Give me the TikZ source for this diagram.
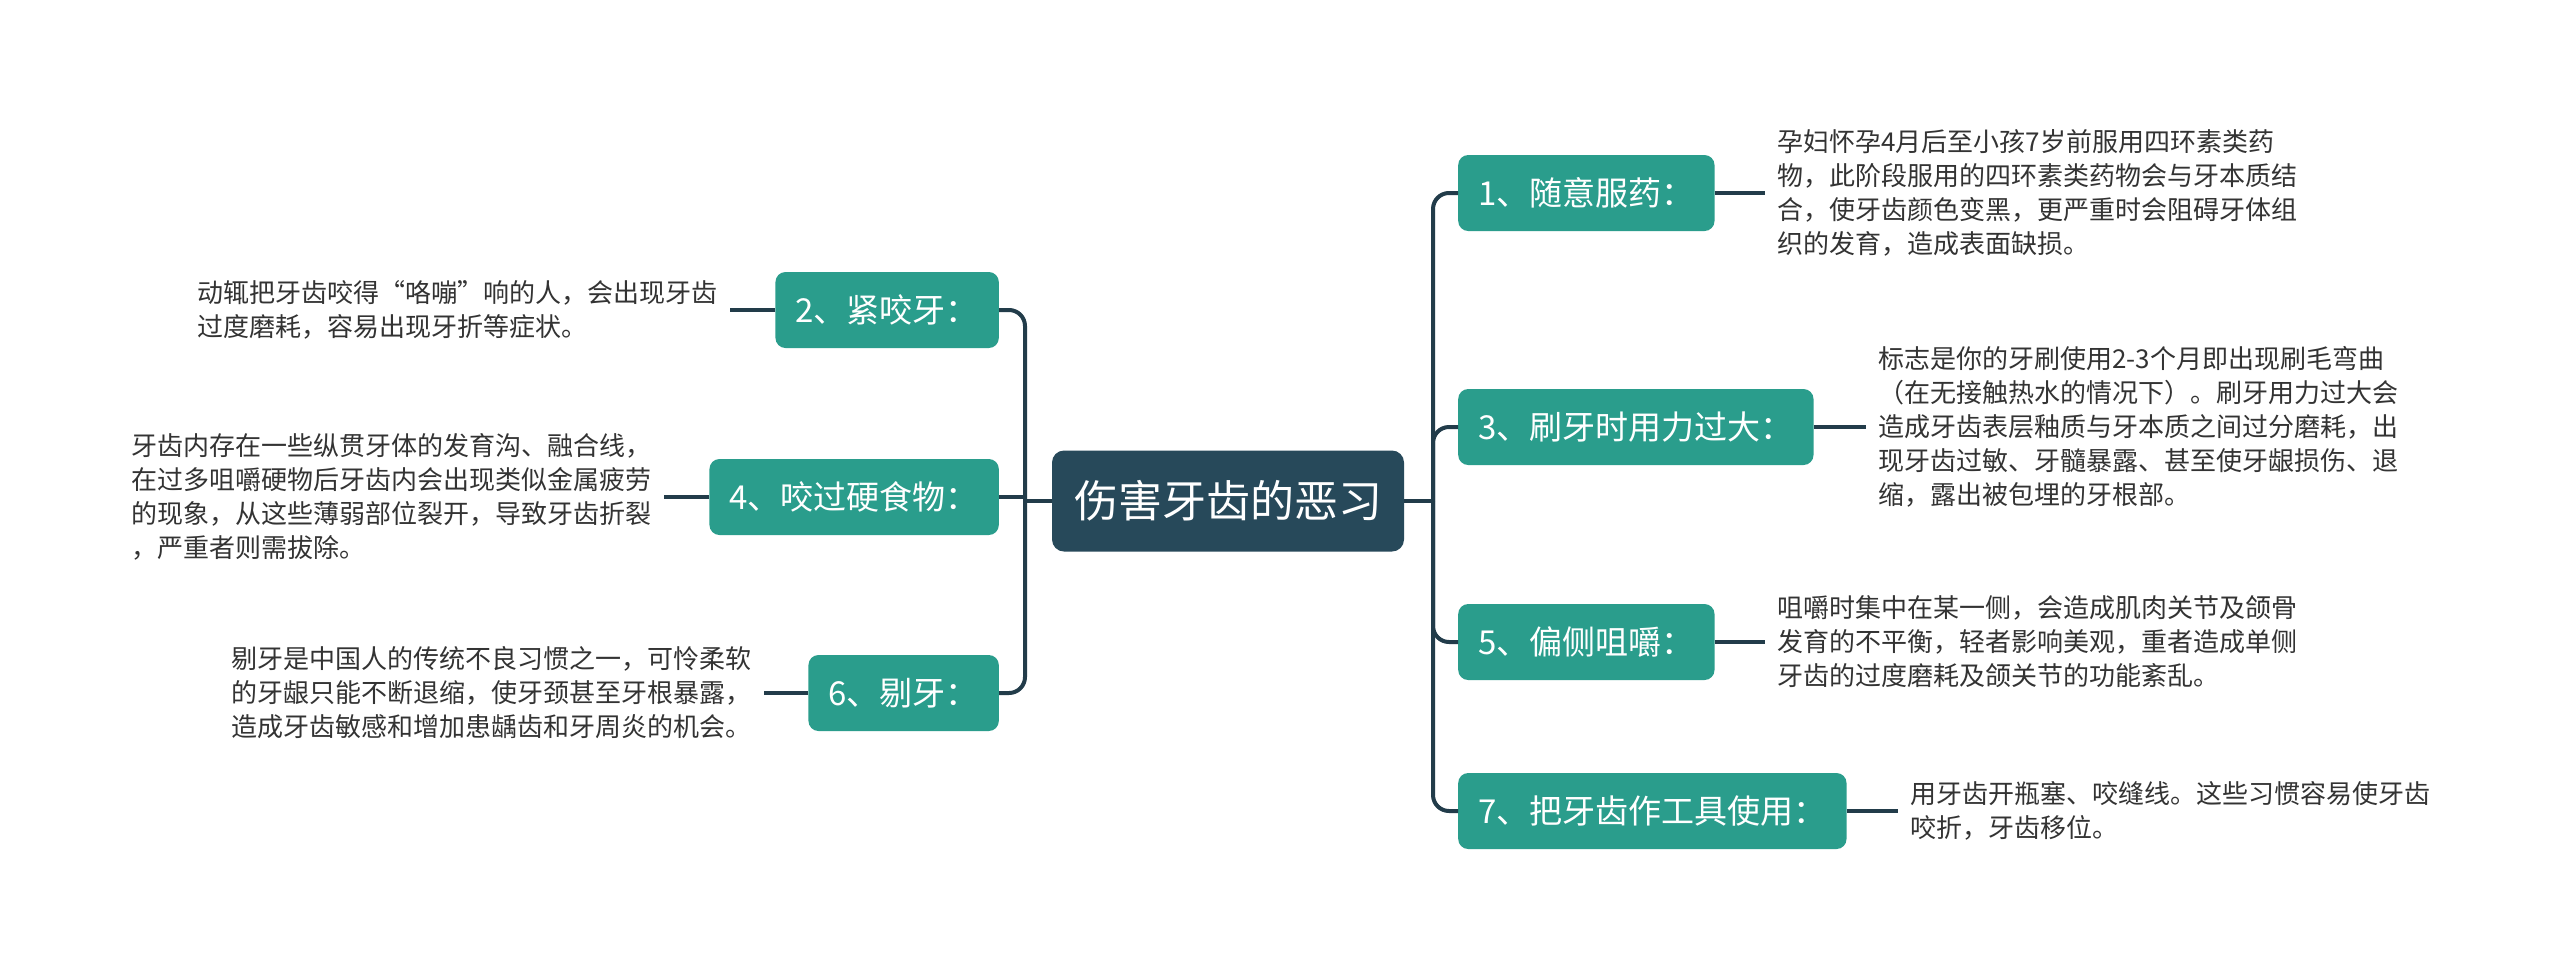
\documentclass[tikz,border=0pt]{standalone}
\usepackage{fontspec}
\setmainfont{Noto Sans CJK SC}
\definecolor{mmteal}{HTML}{2A9D8C}
\definecolor{mmdark}{HTML}{27495A}
\definecolor{mmline}{HTML}{223C4A}
\definecolor{mmtext}{HTML}{333333}
\tikzset{
  central/.style={fill=mmdark, rounded corners=12pt, text=white, font=\fontsize{44}{52}\selectfont, minimum height=101pt, inner xsep=22pt},
  branch/.style={fill=mmteal, rounded corners=10pt, text=white, font=\fontsize{33}{40}\selectfont, minimum height=76pt, inner xsep=20pt},
  detail/.style={text=mmtext, font=\fontsize{26}{34}\selectfont, align=left, inner xsep=12pt, inner ysep=4pt},
  link/.style={draw=mmline, line width=4pt},
  trunk/.style={link, rounded corners=16pt},
}
\begin{document}
\begin{tikzpicture}[x=1pt,y=-1pt]
\useasboundingbox (0,0) rectangle (2560,970);
\fill[white] (0,0) rectangle (2560,970);
\node[central] (c) at (1228,501) {伤害牙齿的恶习};
\coordinate (rt) at (1433,501);
\coordinate (lt) at (1025,501);
\node[branch, anchor=west] (b1) at (1458,193) {1、随意服药：};
\node[branch, anchor=west] (b3) at (1458,427) {3、刷牙时用力过大：};
\node[branch, anchor=west] (b5) at (1458,642) {5、偏侧咀嚼：};
\node[branch, anchor=west] (b7) at (1458,811) {7、把牙齿作工具使用：};
\node[branch, anchor=east] (b2) at (999,310) {2、紧咬牙：};
\node[branch, anchor=east] (b4) at (999,497) {4、咬过硬食物：};
\node[branch, anchor=east] (b6) at (999,693) {6、剔牙：};
\node[detail, anchor=west] (d1) at (1765,193) {孕妇怀孕4月后至小孩7岁前服用四环素类药\\物，此阶段服用的四环素类药物会与牙本质结\\合，使牙齿颜色变黑，更严重时会阻碍牙体组\\织的发育，造成表面缺损。};
\node[detail, anchor=west] (d3) at (1866,427) {标志是你的牙刷使用2-3个月即出现刷毛弯曲\\（在无接触热水的情况下）。刷牙用力过大会\\造成牙齿表层釉质与牙本质之间过分磨耗，出\\现牙齿过敏、牙髓暴露、甚至使牙龈损伤、退\\缩，露出被包埋的牙根部。};
\node[detail, anchor=west] (d5) at (1765,642) {咀嚼时集中在某一侧，会造成肌肉关节及颌骨\\发育的不平衡，轻者影响美观，重者造成单侧\\牙齿的过度磨耗及颌关节的功能紊乱。};
\node[detail, anchor=west] (d7) at (1898,811) {用牙齿开瓶塞、咬缝线。这些习惯容易使牙齿\\咬折，牙齿移位。};
\node[detail, anchor=east] (d2) at (730,310) {动辄把牙齿咬得“咯嘣”响的人，会出现牙齿\\过度磨耗，容易出现牙折等症状。};
\node[detail, anchor=east] (d4) at (664,497) {牙齿内存在一些纵贯牙体的发育沟、融合线，\\在过多咀嚼硬物后牙齿内会出现类似金属疲劳\\的现象，从这些薄弱部位裂开，导致牙齿折裂\\，严重者则需拔除。};
\node[detail, anchor=east] (d6) at (764,693) {剔牙是中国人的传统不良习惯之一，可怜柔软\\的牙龈只能不断退缩，使牙颈甚至牙根暴露，\\造成牙齿敏感和增加患龋齿和牙周炎的机会。};
\draw[link] (c.east) -- (rt);
\draw[link] (c.west) -- (lt);
\draw[trunk] (rt) |- (b1.west);
\draw[trunk] (rt) |- (b3.west);
\draw[trunk] (rt) |- (b5.west);
\draw[trunk] (rt) |- (b7.west);
\draw[trunk] (lt) |- (b2.east);
\draw[trunk] (lt) |- (b6.east);
\draw[link] (b4.east) -- (b4.east -| lt);
\draw[link] (b1.east) -- (d1.west);
\draw[link] (b3.east) -- (d3.west);
\draw[link] (b5.east) -- (d5.west);
\draw[link] (b7.east) -- (d7.west);
\draw[link] (b2.west) -- (d2.east);
\draw[link] (b4.west) -- (d4.east);
\draw[link] (b6.west) -- (d6.east);
\end{tikzpicture}
\end{document}
